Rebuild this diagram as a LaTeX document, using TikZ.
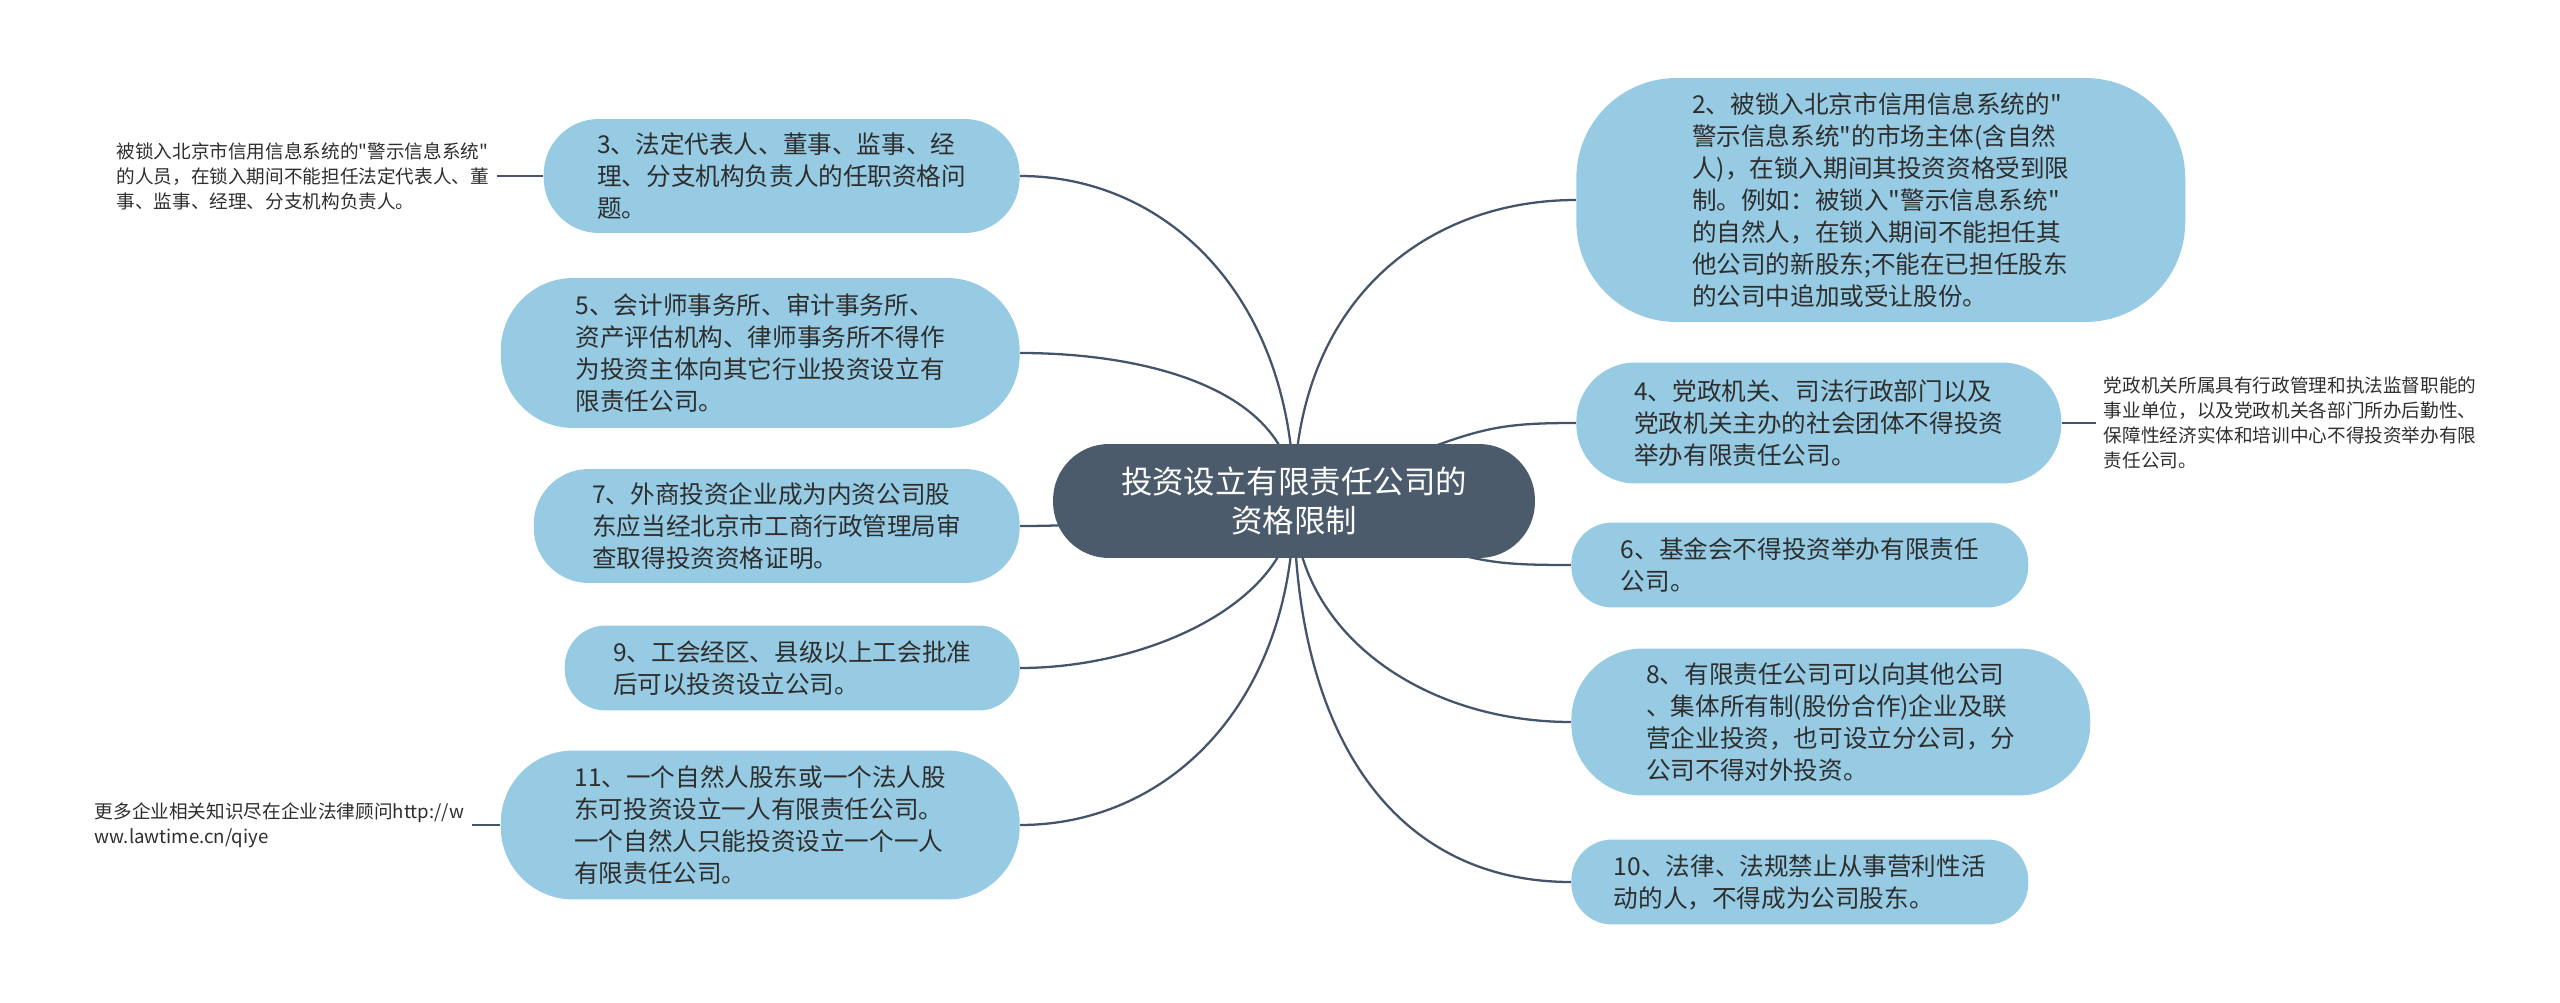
\documentclass[tikz,border=0pt]{standalone}
\usepackage{fontspec}
\setmainfont{Noto Sans CJK SC}[Ligatures=TeXOff]
\usepackage{tikz}
\usetikzlibrary{positioning,backgrounds}
\definecolor{leafblue}{HTML}{96CBE3}
\definecolor{rootslate}{HTML}{4B5B6B}
\definecolor{linkslate}{HTML}{44546A}
\definecolor{inkgray}{HTML}{2E2E2E}

\begin{document}
\begin{tikzpicture}[
  x=0.02cm, y=-0.02cm,
  every node/.style={align=left},
  root/.style={fill=rootslate, text=white, rounded corners=1.12cm,
               minimum width=9.64cm, minimum height=2.28cm,
               align=center, font=\fontsize{17.9}{22}\selectfont},
  leaf/.style={fill=leafblue, text=inkgray, rounded corners=#1,
               font=\fontsize{14}{18.2}\selectfont},
  note/.style={text=inkgray, inner xsep=0.15cm, inner ysep=0.05cm,
               font=\fontsize{10.6}{14.2}\selectfont},
  branch/.style={draw=linkslate, line width=1.3pt}
]
\useasboundingbox (0,0) rectangle (2560,1003);
% --- centre ---
\node[root] (root) at (1294,501) {投资设立有限责任公司的\\资格限制};
% --- left column ---
\node[leaf=1.1cm, minimum width=9.52cm, minimum height=2.28cm, anchor=east] (n3) at (1020,176)
  {3、法定代表人、董事、监事、经\\理、分支机构负责人的任职资格问\\题。};
\node[leaf=1.45cm, minimum width=10.38cm, minimum height=3.0cm, anchor=east] (n5) at (1020,353)
  {5、会计师事务所、审计事务所、\\资产评估机构、律师事务所不得作\\为投资主体向其它行业投资设立有\\限责任公司。};
\node[leaf=1.1cm, minimum width=9.72cm, minimum height=2.28cm, anchor=east] (n7) at (1020,526)
  {7、外商投资企业成为内资公司股\\东应当经北京市工商行政管理局审\\查取得投资资格证明。};
\node[leaf=0.82cm, minimum width=9.1cm, minimum height=1.7cm, anchor=east] (n9) at (1020,668)
  {9、工会经区、县级以上工会批准\\后可以投资设立公司。};
\node[leaf=1.45cm, minimum width=10.38cm, minimum height=2.98cm, anchor=east] (n11) at (1020,825)
  {11、一个自然人股东或一个法人股\\东可投资设立一人有限责任公司。\\一个自然人只能投资设立一个一人\\有限责任公司。};
% --- right column ---
\node[leaf=2.0cm, minimum width=12.18cm, minimum height=4.88cm, anchor=west] (n2) at (1576,200)
  {2、被锁入北京市信用信息系统的"\\警示信息系统"的市场主体(含自然\\人)，在锁入期间其投资资格受到限\\制。例如：被锁入"警示信息系统"\\的自然人，在锁入期间不能担任其\\他公司的新股东;不能在已担任股东\\的公司中追加或受让股份。};
\node[leaf=1.18cm, minimum width=9.7cm, minimum height=2.42cm, anchor=west] (n4) at (1576,423)
  {4、党政机关、司法行政部门以及\\党政机关主办的社会团体不得投资\\举办有限责任公司。};
\node[leaf=0.82cm, minimum width=9.14cm, minimum height=1.7cm, anchor=west] (n6) at (1571,565)
  {6、基金会不得投资举办有限责任\\公司。};
\node[leaf=1.43cm, minimum width=10.38cm, minimum height=2.94cm, anchor=west] (n8) at (1571,722)
  {8、有限责任公司可以向其他公司\\、集体所有制(股份合作)企业及联\\营企业投资，也可设立分公司，分\\公司不得对外投资。};
\node[leaf=0.82cm, minimum width=9.14cm, minimum height=1.7cm, anchor=west] (n10) at (1571,882)
  {10、法律、法规禁止从事营利性活\\动的人，不得成为公司股东。};
% --- side notes ---
\node[note, left=0.93cm of n3] (note1)
  {被锁入北京市信用信息系统的"警示信息系统"\\的人员，在锁入期间不能担任法定代表人、董\\事、监事、经理、分支机构负责人。};
\node[note, left=0.57cm of n11] (note2)
  {更多企业相关知识尽在企业法律顾问http://w\\ww.lawtime.cn/qiye};
\node[note, right=0.69cm of n4] (note3)
  {党政机关所属具有行政管理和执法监督职能的\\事业单位，以及党政机关各部门所办后勤性、\\保障性经济实体和培训中心不得投资举办有限\\责任公司。};
% --- connectors ---
\begin{scope}[on background layer]
\foreach \n/\ax/\ay/\bx in {n3/0/-200/150, n5/0/-110/130, n7/-100/0/150,
                            n9/0/100/130, n11/0/200/150}
  \draw[branch] (root.center) .. controls +(\ax,\ay) and +(\bx,0) .. (\n.east);
\foreach \n/\ax/\ay/\bx in {n2/0/-200/-150, n4/180/-70/-100, n6/180/60/-100,
                            n8/0/130/-150, n10/0/230/-180}
  \draw[branch] (root.center) .. controls +(\ax,\ay) and +(\bx,0) .. (\n.west);
\end{scope}
\foreach \a/\b in {note1/n3,note2/n11,n4/note3}
  \draw[branch] (\a) -- (\b);
\end{tikzpicture}
\end{document}
